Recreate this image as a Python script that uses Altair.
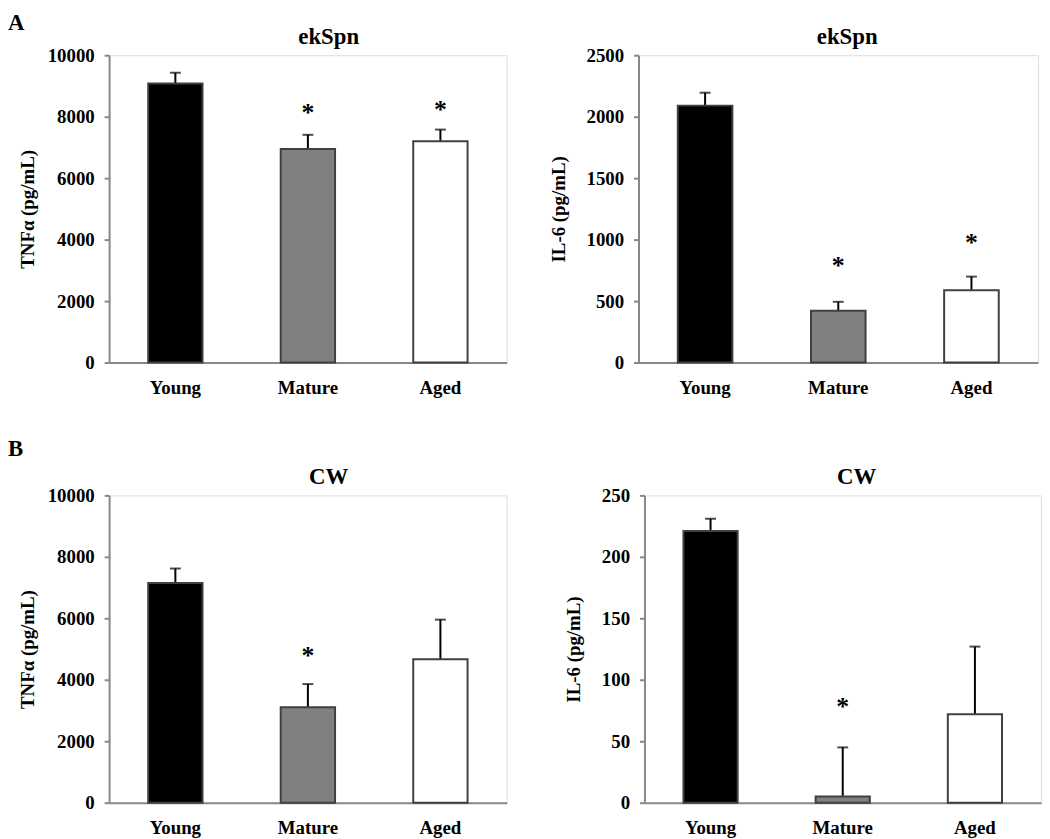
import altair as alt
import pandas as pd

groups = ["Young", "Mature", "Aged"]
colors = ["#000000", "#808080", "#ffffff"]

tnf_ek = [9080, 6950, 7200]
tnf_ek_err = [350, 460, 380]
tnf_ek_star = [None, 8290, 8390]

il6_ek = [2090, 422, 589]
il6_ek_err = [105, 72, 110]
il6_ek_star = [None, 823, 1016]

tnf_cw = [7150, 3110, 4667]
tnf_cw_err = [470, 750, 1290]
tnf_cw_star = [None, 4934, None]

il6_cw = [221, 5, 72]
il6_cw_err = [10, 40, 55]
il6_cw_star = [None, 81.5, None]

FONT = "Liberation Serif"


def panel(title, ytitle, vals, errs, stars, ymax, step, width, tdx, tpad):
    df = pd.DataFrame({
        "group": groups,
        "value": vals,
        "hi": [v + e for v, e in zip(vals, errs)],
    })
    sdf = pd.DataFrame({"group": [g for g, s in zip(groups, stars) if s is not None],
                        "star": [s for s in stars if s is not None]})
    x = alt.X("group:N", sort=groups, title=None,
              scale=alt.Scale(paddingInner=0.59, paddingOuter=0.295),
              axis=alt.Axis(labelAngle=0, ticks=False, labelPadding=16,
                            labelFontSize=19, labelFontWeight="bold", labelFont=FONT,
                            labelColor="black", domainColor="#888888", domainWidth=2))
    yscale = alt.Scale(domain=[0, ymax], nice=False)
    yaxis = alt.Axis(values=list(range(0, ymax + 1, step)), format="d", grid=False,
                     tickSize=5, tickColor="#888888", tickWidth=2,
                     domainColor="#888888", domainWidth=2, labelPadding=10,
                     labelFontSize=19, labelFontWeight="bold", labelFont=FONT, labelColor="black",
                     titleFontSize=19, titleFontWeight="bold", titleFont=FONT, titleColor="black",
                     titlePadding=tpad)
    base = alt.Chart(df)
    rule = base.mark_rule(color="black", strokeWidth=2).encode(
        x=x, y=alt.Y("value:Q", scale=yscale, axis=yaxis, title=ytitle), y2="hi:Q")
    cap = base.mark_tick(color="black", thickness=2, size=11).encode(
        x=x, y=alt.Y("hi:Q", scale=yscale))
    bars = base.mark_bar(stroke="#404040", strokeWidth=2).encode(
        x=x,
        y=alt.Y("value:Q", scale=yscale, axis=yaxis, title=ytitle),
        color=alt.Color("group:N", scale=alt.Scale(domain=groups, range=colors), legend=None),
    )
    star = alt.Chart(sdf).mark_text(text="*", fontSize=26, font=FONT, fontWeight="bold",
                                    baseline="alphabetic", dy=13, color="black").encode(
        x=x, y=alt.Y("star:Q", scale=yscale))
    return alt.layer(rule, bars, cap, star).properties(
        width=width, height=310,
        title=alt.TitleParams(title, fontSize=23, font=FONT, fontWeight="bold",
                              color="black", dx=tdx, offset=-3),
    )


p1 = panel("ekSpn", "TNFα (pg/mL)", tnf_ek, tnf_ek_err, tnf_ek_star, 10000, 2000, 401, 21, 10)
p2 = panel("ekSpn", "IL-6 (pg/mL)", il6_ek, il6_ek_err, il6_ek_star, 2500, 500, 403, 9, 18)
p3 = panel("CW", "TNFα (pg/mL)", tnf_cw, tnf_cw_err, tnf_cw_star, 10000, 2000, 401, 21, 10)
p4 = panel("CW", "IL-6 (pg/mL)", il6_cw, il6_cw_err, il6_cw_star, 250, 50, 400, 14, 18)


def row_title(t, off):
    return alt.TitleParams(t, fontSize=23, font=FONT, fontWeight="bold", color="black",
                           anchor="start", dx=-10, offset=off)


rowA = alt.hconcat(p1, p2, spacing=41).properties(title=row_title("A", -9))
rowB = alt.hconcat(p3, p4, spacing=57).properties(title=row_title("B", 5))

chart = alt.vconcat(rowA, rowB, spacing=40).properties(
    padding={"left": 0, "top": 0, "right": 0, "bottom": 0}
).configure_view(stroke=None).configure(background="white")

chart.save("out.html", embed_options={"renderer": "svg", "actions": False})
